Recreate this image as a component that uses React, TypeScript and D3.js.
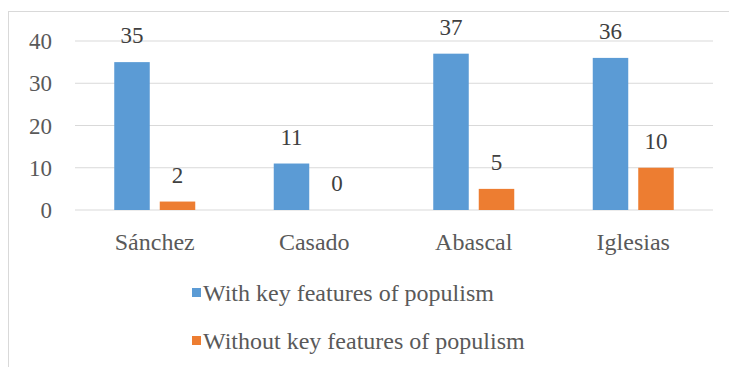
import React from "react";
import * as d3 from "d3";

const categories = ["Sánchez", "Casado", "Abascal", "Iglesias"];
const withKey = [35, 11, 37, 36];
const withoutKey = [2, 0, 5, 10];
const seriesNames = ["With key features of populism", "Without key features of populism"];
const yTicks = [0, 10, 20, 30, 40];
const colors = ["#5B9BD5", "#ED7D31"];

export default function App() {
  const W = 729, H = 367;
  const x = d3.scaleBand<string>().domain(categories).range([75, 713]).paddingInner(0).paddingOuter(0);
  const bw = x.bandwidth();
  const barW = 35.5, gap = 10;
  const y = d3.scaleLinear().domain([0, 40]).range([210, 41]);
  const font = "'Times New Roman', Times, 'Liberation Serif', 'DejaVu Serif', serif";
  const series = [withKey, withoutKey];
  return (
    <svg width={W} height={H} style={{ position: "absolute", left: 0, top: 0, background: "#fff" }}>
      <rect x={0} y={0} width={W} height={H} fill="#fff" />
      <line x1={8} x2={W} y1={11.5} y2={11.5} stroke="#D9D9D9" strokeWidth={1} />
      <line x1={8.5} x2={8.5} y1={11} y2={H} stroke="#D9D9D9" strokeWidth={1} />
      {yTicks.map((t) => (
        <g key={t}>
          <line x1={75} x2={713} y1={y(t)} y2={y(t)} stroke="#D9D9D9" strokeWidth={1} />
          <text x={52} y={y(t) + 8} textAnchor="end" style={{ fontFamily: font }} fontSize={23} fill="#595959">{t}</text>
        </g>
      ))}
      {categories.map((c, i) => {
        const cx = (x(c) as number) + bw / 2;
        return (
          <g key={c}>
            {series.map((s, k) => {
              const bx = k === 0 ? cx - gap / 2 - barW : cx + gap / 2;
              return (
                <g key={k}>
                  <rect x={bx} y={y(s[i])} width={barW} height={y(0) - y(s[i])} fill={colors[k]} />
                  <text x={bx + barW / 2} y={y(s[i]) - 19} textAnchor="middle" style={{ fontFamily: font }} fontSize={23} fill="#404040">{s[i]}</text>
                </g>
              );
            })}
            <text x={cx} y={250} textAnchor="middle" style={{ fontFamily: font }} fontSize={24} fill="#595959">{c}</text>
          </g>
        );
      })}
      {seriesNames.map((n, k) => (
        <g key={n}>
          <rect x={192} y={288 + k * 48} width={9} height={9} fill={colors[k]} />
          <text x={203} y={301 + k * 48} style={{ fontFamily: font }} fontSize={24} fill="#595959">{n}</text>
        </g>
      ))}
    </svg>
  );
}
